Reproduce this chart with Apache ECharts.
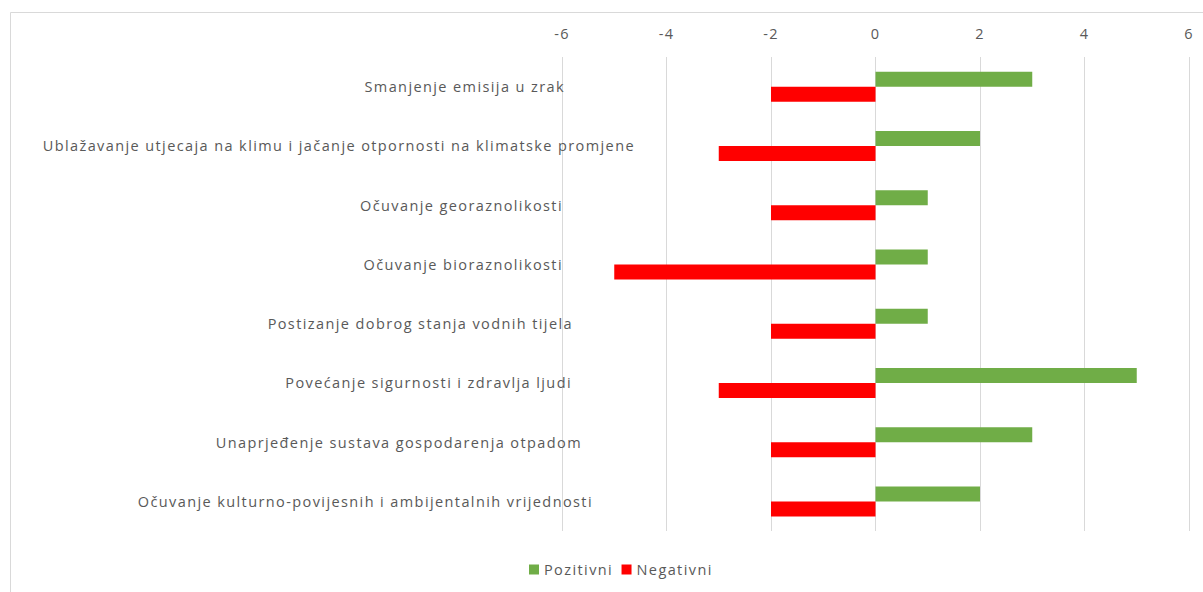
<!DOCTYPE html>
<html>
<head>
<meta charset="utf-8">
<script src="https://cdn.jsdelivr.net/npm/echarts@6/dist/echarts.min.js"></script>
<style>
  html, body { margin: 0; padding: 0; background: #fff; }
  #chart { width: 1203px; height: 592px; }
  #chart svg text { letter-spacing: 1.4px; }
</style>
</head>
<body>
<div id="chart"></div>
<script>
const categories = [
  'Smanjenje emisija u zrak',
  'Ublažavanje utjecaja na klimu i jačanje otpornosti na klimatske promjene',
  'Očuvanje georaznolikosti',
  'Očuvanje bioraznolikosti',
  'Postizanje dobrog stanja vodnih tijela',
  'Povećanje sigurnosti i zdravlja ljudi',
  'Unaprjeđenje sustava gospodarenja otpadom',
  'Očuvanje kulturno-povijesnih i ambijentalnih vrijednosti'
];
const pozitivni = [3, 2, 1, 1, 1, 5, 3, 2];
const negativni = [-2, -3, -2, -5, -2, -3, -2, -2];
const xTicks = [-6, -4, -2, 0, 2, 4, 6];

// label right-edge shifts (style only, mimic the reference's label placement)
const labelShift = [75, 5, 77, 77, 67, 68, 58, 47];

const rich = {};
labelShift.forEach((p, i) => {
  rich['c' + i] = { align: 'right', padding: [0, p, 0, 0], fontFamily: 'Open Sans', fontSize: 14.5, color: '#595959' };
});

const chart = echarts.init(document.getElementById('chart'), null, { renderer: 'svg' });
chart.setOption({
  animation: false,
  graphic: [{
    type: 'rect',
    shape: { x: 10.5, y: 12.5, width: 1220, height: 620 },
    style: { fill: 'none', stroke: '#d9d9d9', lineWidth: 1 },
    silent: true
  }],
  grid: { left: 562, right: 14, top: 57, bottom: 61, containLabel: false },
  legend: {
    bottom: 10,
    left: 524,
    itemWidth: 10,
    itemHeight: 10,
    itemGap: 21,
    icon: 'rect',
    textStyle: { fontFamily: 'Open Sans', fontSize: 14.5, color: '#595959' },
    data: ['Pozitivni', 'Negativni']
  },
  xAxis: {
    type: 'value',
    position: 'top',
    min: xTicks[0],
    max: xTicks[xTicks.length - 1],
    interval: 2,
    axisLine: { show: false },
    axisTick: { show: false },
    splitLine: { show: true, lineStyle: { color: '#d9d9d9', width: 1 } },
    axisLabel: { margin: 16, fontFamily: 'Open Sans', fontSize: 14.5, color: '#595959' }
  },
  yAxis: {
    type: 'category',
    inverse: true,
    data: categories,
    axisLine: { show: false },
    axisTick: { show: false },
    splitLine: { show: false },
    axisLabel: {
      margin: -78,
      align: 'right',
      formatter: (v, i) => '{c' + i + '|' + v + '}',
      rich: rich
    }
  },
  series: [
    {
      name: 'Pozitivni',
      type: 'bar',
      data: pozitivni,
      barWidth: 15,
      barGap: '0%',
      itemStyle: { color: '#70ad47' }
    },
    {
      name: 'Negativni',
      type: 'bar',
      data: negativni,
      barWidth: 15,
      barGap: '0%',
      itemStyle: { color: '#ff0000' }
    }
  ]
});
</script>
</body>
</html>
